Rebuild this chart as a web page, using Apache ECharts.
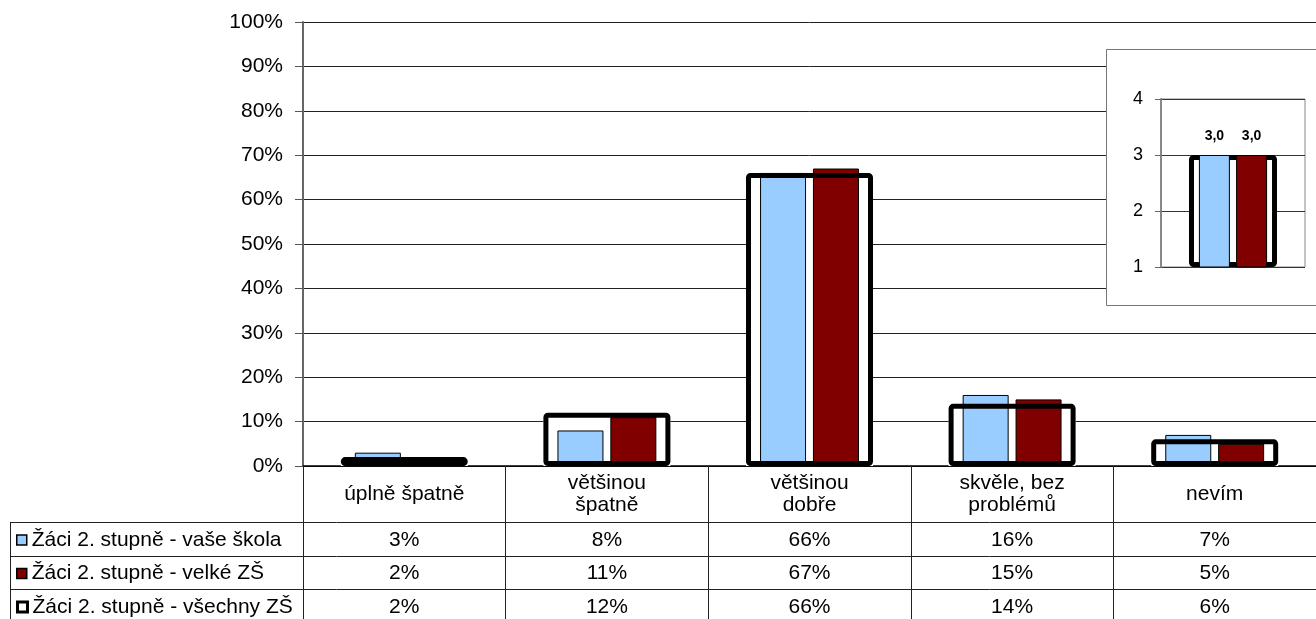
<!DOCTYPE html>
<html>
<head>
<meta charset="utf-8">
<script src="https://cdn.jsdelivr.net/npm/echarts@6/dist/echarts.min.js"></script>
<style>
  html, body { margin: 0; padding: 0; background: #fff; }
  #chart { width: 1316px; height: 619px; }
</style>
</head>
<body>
<div id="chart"></div>
<script>
// kategorie a hodnoty (v %)
const categories = ['úplně špatně', 'většinou\nšpatně', 'většinou\ndobře', 'skvěle, bez\nproblémů', 'nevím']
const seriesNames = ['Žáci 2. stupně - vaše škola', 'Žáci 2. stupně - velké ZŠ', 'Žáci 2. stupně - všechny ZŠ']
const skola = [3, 8, 66, 16, 7]
const velkeZS = [2, 11, 67, 15, 5]
const vsechnyZS = [2, 12, 66, 14, 6]

// průměrná známka (vložený graf)
const prumerSkola = [3.0]
const prumerVelke = [3.0]
const prumerVsechny = [3.0]
const prumerMin = 1

const FONT = 'Liberation Sans, Arial, sans-serif'
const BLUE = '#99CCFF'
const RED = '#800000'

const chart = echarts.init(document.getElementById('chart'))

// řádky tabulky pod grafem
const tableRows = [skola, velkeZS, vsechnyZS]
const rowOffsets = [74, 107, 141]

const tableAxes = tableRows.map((row, i) => ({
  type: 'category',
  gridIndex: 0,
  position: 'bottom',
  offset: rowOffsets[i],
  data: categories,
  axisLine: { show: false },
  axisTick: { show: false },
  axisLabel: {
    margin: 0,
    verticalAlign: 'middle',
    fontSize: 21,
    fontFamily: FONT,
    color: '#000',
    formatter: (v, idx) => row[idx] + '%'
  }
}))

const legendIcons = [
  { color: BLUE, borderColor: '#000', borderWidth: 1.5 },
  { color: RED, borderColor: '#000', borderWidth: 1.5 },
  { color: '#fff', borderColor: '#000', borderWidth: 3 }
]

const legends = seriesNames.map((name, i) => ({
  data: [{ name: name, itemStyle: legendIcons[i] }],
  left: 16,
  top: 540 + i * 33.5 - 12,
  padding: 0,
  itemWidth: 10,
  itemHeight: 10,
  icon: 'rect',
  selectedMode: false,
  textStyle: { fontSize: 21, fontFamily: FONT, color: '#000', lineHeight: 24 }
}))

var option = {
  animation: false,
  backgroundColor: '#fff',
  textStyle: { fontFamily: FONT },
  legend: legends,
  grid: [
    { left: 303, top: 22, right: -4, bottom: 153 },
    {
      left: 1161, top: 99, width: 144, height: 168, z: 3,
      show: true, backgroundColor: '#fff', borderColor: '#888', borderWidth: 1
    }
  ],
  xAxis: [
    {
      type: 'category',
      gridIndex: 0,
      data: categories,
      axisLine: { lineStyle: { color: '#000', width: 1.5 } },
      axisTick: { show: true, length: 160, inside: false, lineStyle: { color: '#222' } },
      axisLabel: {
        margin: 28,
        verticalAlign: 'middle',
        lineHeight: 22,
        fontSize: 21,
        fontFamily: FONT,
        color: '#000'
      }
    },
    { type: 'category', gridIndex: 0, data: categories, show: false },
    ...tableAxes,
    { type: 'category', gridIndex: 1, data: [''], show: false, z: 4 },
    { type: 'category', gridIndex: 1, data: [''], show: false, z: 4 }
  ],
  yAxis: [
    {
      type: 'value',
      gridIndex: 0,
      min: 0,
      max: 100,
      interval: 10,
      axisLine: { show: true, lineStyle: { color: '#666', width: 2 } },
      axisTick: { show: true, length: 8, lineStyle: { color: '#555' } },
      axisLabel: { formatter: '{value}%', fontSize: 21, fontFamily: FONT, color: '#000', margin: 20 },
      splitLine: { lineStyle: { color: '#222', width: 1 } }
    },
    {
      type: 'value',
      gridIndex: 1,
      min: 1,
      max: 4,
      interval: 1,
      z: 4,
      axisLine: { show: true, lineStyle: { color: '#888', width: 2 } },
      axisTick: { show: true, length: 6, lineStyle: { color: '#666' } },
      axisLabel: { fontSize: 18, fontFamily: FONT, color: '#000', margin: 18 },
      splitLine: { lineStyle: { color: '#333', width: 1 } }
    }
  ],
  series: [
    // podklad "všechny ZŠ" (bílá výplň)
    {
      name: 'fill-vsechny',
      type: 'bar',
      xAxisIndex: 1,
      yAxisIndex: 0,
      data: vsechnyZS,
      barWidth: 127,
      silent: true,
      itemStyle: { color: '#fff' }
    },
    {
      name: seriesNames[0],
      type: 'bar',
      xAxisIndex: 0,
      yAxisIndex: 0,
      data: skola,
      barWidth: 46,
      barGap: '15%',
      itemStyle: { color: BLUE, borderColor: '#000', borderWidth: 1 }
    },
    {
      name: seriesNames[1],
      type: 'bar',
      xAxisIndex: 0,
      yAxisIndex: 0,
      data: velkeZS,
      barWidth: 46,
      barGap: '15%',
      itemStyle: { color: RED, borderColor: '#000', borderWidth: 1 }
    },
    // obrys "všechny ZŠ" přes sloupce
    {
      name: seriesNames[2],
      type: 'bar',
      xAxisIndex: 1,
      yAxisIndex: 0,
      data: vsechnyZS,
      barWidth: 127,
      barGap: '-100%',
      clip: false,
      itemStyle: { color: 'rgba(0,0,0,0)', borderColor: '#000', borderWidth: 5, borderRadius: 2 }
    },

    // vložený graf - průměr
    {
      name: 'inset-base',
      type: 'bar',
      xAxisIndex: 6,
      yAxisIndex: 1,
      stack: 'box',
      data: prumerVsechny.map(() => prumerMin),
      barWidth: 88,
      silent: true,
      z: 5,
      itemStyle: { color: 'rgba(0,0,0,0)' }
    },
    {
      name: 'inset-box',
      type: 'bar',
      xAxisIndex: 6,
      yAxisIndex: 1,
      stack: 'box',
      data: prumerVsechny.map(v => v - prumerMin),
      barWidth: 88,
      clip: false,
      silent: true,
      z: 5,
      itemStyle: { color: '#fff', borderColor: '#000', borderWidth: 5, borderRadius: 2 }
    },
    {
      name: 'inset-skola',
      type: 'bar',
      xAxisIndex: 5,
      yAxisIndex: 1,
      data: prumerSkola,
      barWidth: 31,
      barGap: '20%',
      z: 6,
      itemStyle: { color: BLUE, borderColor: '#000', borderWidth: 1 },
      label: {
        show: true, position: 'top', distance: 12,
        fontSize: 14, fontWeight: 'bold', fontFamily: FONT, color: '#000',
        formatter: p => p.value.toFixed(1).replace('.', ',')
      }
    },
    {
      name: 'inset-velke',
      type: 'bar',
      xAxisIndex: 5,
      yAxisIndex: 1,
      data: prumerVelke,
      barWidth: 31,
      barGap: '20%',
      z: 6,
      itemStyle: { color: RED, borderColor: '#000', borderWidth: 1 },
      label: {
        show: true, position: 'top', distance: 12,
        fontSize: 14, fontWeight: 'bold', fontFamily: FONT, color: '#000',
        formatter: p => p.value.toFixed(1).replace('.', ',')
      }
    }
  ],
  graphic: [
    // rámeček vloženého grafu
    {
      type: 'rect', z: 1,
      shape: { x: 1106.5, y: 49.5, width: 230, height: 256 },
      style: { fill: '#fff', stroke: '#777', lineWidth: 1 }
    },
    // linky tabulky
    { type: 'line', z: 1, shape: { x1: 10, y1: 522.5, x2: 1316, y2: 522.5 }, style: { stroke: '#222', lineWidth: 1 } },
    { type: 'line', z: 1, shape: { x1: 10, y1: 556.5, x2: 1316, y2: 556.5 }, style: { stroke: '#222', lineWidth: 1 } },
    { type: 'line', z: 1, shape: { x1: 10, y1: 589.5, x2: 1316, y2: 589.5 }, style: { stroke: '#222', lineWidth: 1 } },
    { type: 'line', z: 1, shape: { x1: 10.5, y1: 522, x2: 10.5, y2: 619 }, style: { stroke: '#222', lineWidth: 1 } }
  ]
};

chart.setOption(option)
</script>
</body>
</html>
